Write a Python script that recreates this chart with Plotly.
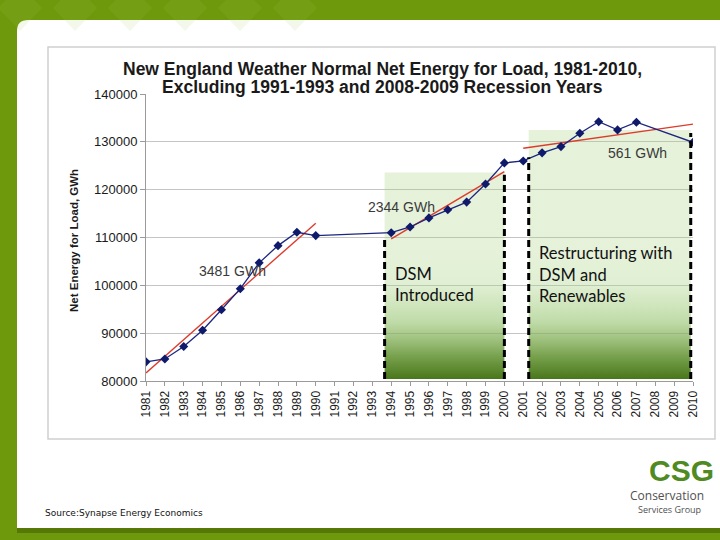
import plotly.graph_objects as go

# ---------------- data ----------------
years = list(range(1981, 2011))
net_energy = [84000, 84600, 87200, 90600, 94900, 99300, 104700, 108300, 111100, 110400,
              None, None, None,
              111000, 112200, 114100, 115800, 117400, 121200, 125600,
              126000, 127700, 129000, 131800, 134200, 132500, 134100,
              None, None,
              129900]

trend1_years = [1981, 1990]
trend1_vals = [81700, 113000]
trend2_years = [1994, 2000]
trend2_vals = [109700, 123760]
trend3_years = [2001, 2010]
trend3_vals = [128650, 133700]

trend_labels = ["3481 GWh", "2344 GWh", "561 GWh"]

y_ticks = [80000, 90000, 100000, 110000, 120000, 130000, 140000]
y_ticklabels = [str(v) for v in y_ticks]
x_ticklabels = [str(y) for y in years]

# period boxes (years, top value)
dsm_period = (1993.65, 2000.0)
dsm_top = 123600
restr_period = (2001.29, 2009.88)
restr_top = 132500

W, H = 720, 540


def px(x):
    return x / W


def py(y):
    return 1 - y / H


FONT = "Liberation Sans, Arial, sans-serif"

fig = go.Figure()

grad = [[0.0, "rgba(72,118,26,1)"],
        [0.18, "rgba(108,153,62,0.92)"],
        [0.45, "rgba(150,195,110,0.6)"],
        [0.75, "rgba(170,212,135,0.36)"],
        [1.0, "rgba(170,212,130,0.3)"]]

for (x0, x1), top in [(dsm_period, dsm_top), (restr_period, restr_top)]:
    fig.add_trace(go.Scatter(
        x=[x0, x1, x1, x0, x0], y=[80400, 80400, top, top, 80400],
        mode="lines", line=dict(width=0), fill="toself",
        fillgradient=dict(type="vertical", colorscale=grad, start=80400, stop=107000),
        hoverinfo="skip", showlegend=False))

# trend lines
for tx, ty in [(trend1_years, trend1_vals), (trend2_years, trend2_vals), (trend3_years, trend3_vals)]:
    fig.add_trace(go.Scatter(x=tx, y=ty, mode="lines",
                             line=dict(color="#dd3b2c", width=1.4),
                             showlegend=False, hoverinfo="skip"))

# data series
fig.add_trace(go.Scatter(x=years, y=net_energy, mode="lines+markers", connectgaps=True,
                         line=dict(color="#1c2680", width=1.3),
                         marker=dict(symbol="diamond", size=7, color="#0f1a6b"),
                         showlegend=False))

shapes = []
# slide background panel
shapes.append(dict(type="path", xref="paper", yref="paper", layer="below",
                   path=(f"M {px(17)},{py(33)} Q {px(17)},{py(20)} {px(30)},{py(20)} "
                         f"L {px(720)},{py(20)} L {px(720)},{py(533)} L {px(17)},{py(533)} Z"),
                   fillcolor="rgba(40,60,0,0.35)", line=dict(width=0)))
shapes.append(dict(type="path", xref="paper", yref="paper", layer="below",
                   path=(f"M {px(17)},{py(31)} Q {px(17)},{py(20)} {px(28)},{py(20)} "
                         f"L {px(720)},{py(20)} L {px(720)},{py(528)} L {px(17)},{py(528)} Z"),
                   fillcolor="white", line=dict(width=0)))
# lighter diamond pattern in banner
for cx in [20, 75, 130, 185, 240, 295]:
    shapes.append(dict(type="path", xref="paper", yref="paper", layer="below",
                       path=(f"M {px(cx)},{py(-15)} L {px(cx+22)},{py(8)} L {px(cx)},{py(31)} "
                             f"L {px(cx-22)},{py(8)} Z"),
                       fillcolor="rgba(160,200,80,0.12)", line=dict(width=0)))
# chart frame
shapes.append(dict(type="rect", xref="paper", yref="paper", layer="below",
                   x0=px(48), x1=px(715), y0=py(439), y1=py(47),
                   line=dict(color="#d0d0d0", width=1.5), fillcolor="white"))

# dashed period borders
dash_lines = [(dsm_period[0], 109480), (dsm_period[1], 123100),
              (restr_period[0], 126800), (restr_period[1], 131850)]
for xv, ytop in dash_lines:
    shapes.append(dict(type="line", xref="x", yref="y", x0=xv, x1=xv, y0=80400, y1=ytop,
                       line=dict(color="black", width=3, dash="7px,4px"), layer="above"))

annotations = []
annotations.append(dict(xref="paper", yref="paper", x=px(382), y=py(69),
                        text="New England Weather Normal Net Energy for Load, 1981-2010,",
                        showarrow=False, xanchor="center", yanchor="middle",
                        font=dict(family=FONT, size=17.5, color="#1a1a1a", weight="bold")))
annotations.append(dict(xref="paper", yref="paper", x=px(382), y=py(87),
                        text="Excluding 1991-1993 and 2008-2009 Recession Years",
                        showarrow=False, xanchor="center", yanchor="middle",
                        font=dict(family=FONT, size=17.5, color="#1a1a1a", weight="bold")))
annotations.append(dict(xref="paper", yref="paper", x=px(74), y=py(241),
                        text="Net Energy for Load, GWh", textangle=-90,
                        showarrow=False, xanchor="center", yanchor="middle",
                        font=dict(family=FONT, size=11.5, color="#1a1a1a", weight="bold")))

for label, (x, y) in zip(trend_labels, [(232, 271), (401, 207), (637, 153)]):
    annotations.append(dict(xref="paper", yref="paper", x=px(x), y=py(y), text=label,
                            showarrow=False, xanchor="center", yanchor="middle",
                            font=dict(family=FONT, size=14, color="#3a3a3a")))

CAL = "Lato, Carlito, Calibri, sans-serif"
for txt, (x, y) in [("DSM", (393, 274)), ("Introduced", (393, 295)),
                    ("Restructuring with", (537, 253)), ("DSM and", (537, 275)),
                    ("Renewables", (537, 296))]:
    annotations.append(dict(xref="paper", yref="paper", x=px(x), y=py(y), text=txt,
                            showarrow=False, xanchor="left", yanchor="middle",
                            font=dict(family=CAL, size=16.5, color="#111111")))

annotations.append(dict(xref="paper", yref="paper", x=px(43), y=py(513),
                        text="Source:Synapse Energy Economics", showarrow=False,
                        xanchor="left", yanchor="middle",
                        font=dict(family="DejaVu Sans, Verdana, sans-serif", size=9, color="#111")))

# logo
annotations.append(dict(xref="paper", yref="paper", x=px(681), y=py(470), text="CSG",
                        showarrow=False, xanchor="center", yanchor="middle",
                        font=dict(family="Liberation Sans Narrow, Liberation Sans, sans-serif",
                                  size=30, color="#4f8a22", weight="bold")))
annotations.append(dict(xref="paper", yref="paper", x=px(667), y=py(495), text="Conservation",
                        showarrow=False, xanchor="center", yanchor="middle",
                        font=dict(family="Open Sans, sans-serif", size=12, color="#505050")))
annotations.append(dict(xref="paper", yref="paper", x=px(669), y=py(509.5), text="Services Group",
                        showarrow=False, xanchor="center", yanchor="middle",
                        font=dict(family="Open Sans, sans-serif", size=9, color="#505050")))

fig.update_layout(
    width=W, height=H,
    margin=dict(l=0, r=0, t=0, b=0, pad=0),
    paper_bgcolor="#6f990c",
    plot_bgcolor="rgba(0,0,0,0)",
    shapes=shapes,
    annotations=annotations,
    showlegend=False,
    xaxis=dict(domain=[146 / W, 693 / W], range=[1981, 2010], autorange=False,
               tickmode="array", tickvals=years, ticktext=x_ticklabels, tickangle=-90,
               ticks="outside", ticklen=4, tickcolor="#9a9a9a",
               showline=True, linecolor="#9a9a9a", linewidth=1,
               showgrid=False, zeroline=False, automargin=False,
               tickfont=dict(family=FONT, size=12, color="#1a1a1a")),
    yaxis=dict(domain=[1 - 381 / H, 1 - 94 / H], range=[80000, 140000], autorange=False,
               tickmode="array", tickvals=y_ticks, ticktext=y_ticklabels,
               ticks="outside", ticklen=5, tickcolor="#9a9a9a",
               showline=True, linecolor="#9a9a9a", linewidth=1,
               showgrid=True, gridcolor="#c4c4c4", gridwidth=1,
               zeroline=False, automargin=False,
               tickfont=dict(family=FONT, size=13, color="#1a1a1a")),
)

fig.write_html("out.html", config={"displayModeBar": False},
               post_script="document.body.style.margin='0';document.body.style.overflow='hidden';")
